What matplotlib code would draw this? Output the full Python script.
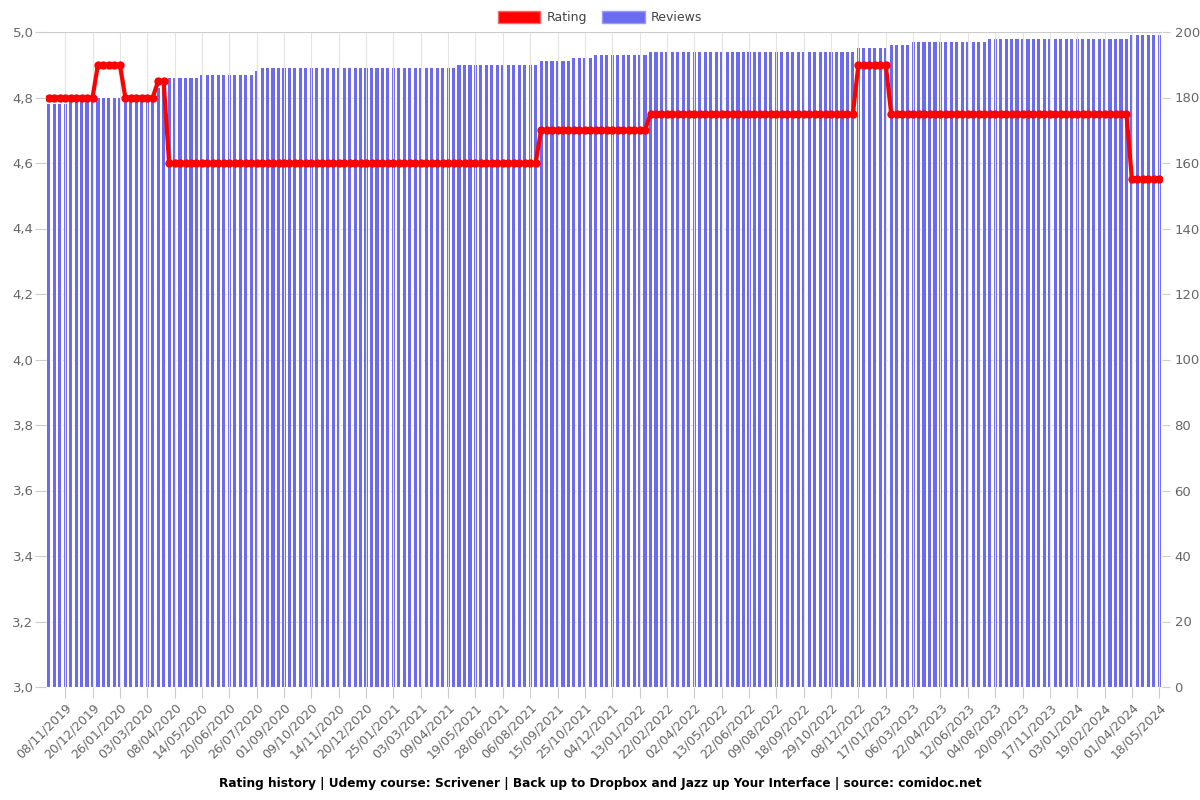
import numpy as np
import matplotlib
matplotlib.use('Agg')
import matplotlib.pyplot as plt
from matplotlib.patches import Patch

# tick labels (one every 5 data points, starting at point 3)
tick_labels = ['08/11/2019', '20/12/2019', '26/01/2020', '03/03/2020', '08/04/2020',
               '14/05/2020', '20/06/2020', '26/07/2020', '01/09/2020', '09/10/2020',
               '14/11/2020', '20/12/2020', '25/01/2021', '03/03/2021', '09/04/2021',
               '19/05/2021', '28/06/2021', '06/08/2021', '15/09/2021', '25/10/2021',
               '04/12/2021', '13/01/2022', '22/02/2022', '02/04/2022', '13/05/2022',
               '22/06/2022', '09/08/2022', '18/09/2022', '29/10/2022', '08/12/2022',
               '17/01/2023', '06/03/2023', '22/04/2023', '12/06/2023', '04/08/2023',
               '20/09/2023', '17/11/2023', '03/01/2024', '19/02/2024', '01/04/2024',
               '18/05/2024']

# reviews count, as (level, number of consecutive points)
review_levels = [178, 179, 180, 183, 186, 187, 188, 189, 190, 191, 192, 193, 194, 195, 196, 197, 198, 199]
review_runs   = [4,   5,   11,  1,   7,   10,  1,   36,  15,  6,   4,   10,  38,  6,   4,   14,  26,  6]

# rating, as (level, number of consecutive points)
rating_levels = [4.8, 4.9, 4.8, 4.85, 4.6, 4.7, 4.75, 4.9, 4.75, 4.55]
rating_runs   = [9,   5,   6,   2,    68,  20,  38,   6,   44,   6]

reviews = np.repeat(review_levels, review_runs)
rating = np.repeat(rating_levels, rating_runs)
x = np.arange(len(reviews))

fig = plt.figure(figsize=(12, 8), dpi=100)
ax = fig.add_axes([46/1200, 1-687/800, (1162-46)/1200, (687-32)/800])
ax2 = ax.twinx()

# bars on the right axis
ax2.bar(x, reviews, width=0.58, color='#6b6bf0', zorder=2)
ax2.set_ylim(0, 200)
ax2.set_yticks(np.arange(0, 201, 20))
ax2.set_axisbelow(True)
ax2.grid(axis='y', color='#dddddd', linestyle=(0, (2, 3)), linewidth=0.8)

# rating line on the left axis, drawn above the bars
ax.set_zorder(ax2.get_zorder() + 1)
ax.patch.set_visible(False)
ax.plot(x, rating, '-o', color='#ff0000', linewidth=3, markersize=5)
ax.set_ylim(3.0, 5.0)
yt = np.arange(3.0, 5.01, 0.2)
ax.set_yticks(yt)
ax.set_yticklabels(['{:.1f}'.format(v).replace('.', ',') for v in yt])
ax.set_xlim(-0.5, len(x) - 0.5)

tick_pos = np.arange(3, len(x), 5)
ax.set_xticks(tick_pos)
ax.set_xticklabels(tick_labels, rotation=45, ha='right', rotation_mode='anchor')
ax.grid(axis='x', color='#e3e3e3', linewidth=0.8)
ax2.set_xticks(tick_pos)

for a in (ax, ax2):
    for s in a.spines.values():
        s.set_visible(False)
    a.tick_params(colors='#cccccc', labelcolor='#666666', width=0.8)
ax.tick_params(axis='x', labelsize=9, length=8, pad=2)
ax.tick_params(axis='y', labelsize=9.5, length=8, pad=1)
ax2.tick_params(axis='y', labelsize=9.5, length=6, pad=3)
ax.axhline(5.0, color='#cccccc', linewidth=0.8)
ax.axhline(3.0, color='#cccccc', linewidth=0.8)

handles = [Patch(facecolor='#ff0000', edgecolor='#ff6666'),
           Patch(facecolor='#6b6bf0', edgecolor='#9999ff')]
fig.legend(handles, ['Rating', 'Reviews'], loc='upper center', bbox_to_anchor=(0.5, 1.0),
           ncol=2, frameon=False, fontsize=9, handlelength=3.4, handleheight=1.0,
           columnspacing=1.2, handletextpad=0.5, labelcolor='#444444')

fig.text(0.5, 1 - 783/800, 'Rating history | Udemy course: Scrivener | Back up to Dropbox and Jazz up Your Interface | source: comidoc.net',
         ha='center', va='center', fontsize=8.7, fontweight='bold')

fig.savefig('out.png', dpi=100)
